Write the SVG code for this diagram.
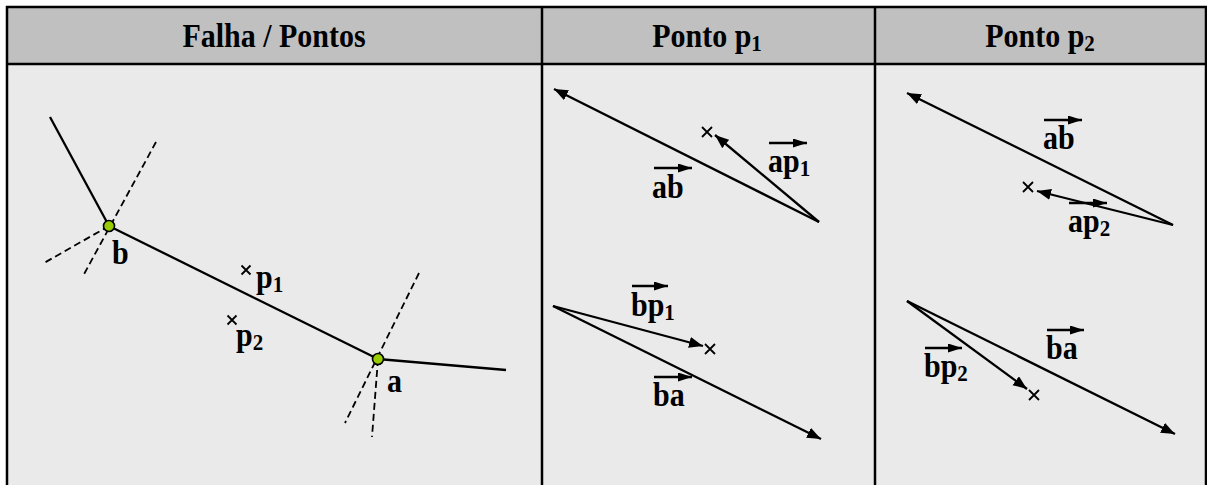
<svg xmlns="http://www.w3.org/2000/svg" width="1207" height="485" viewBox="0 0 1207 485">
<style>
.hdr{font-family:"Liberation Serif","Times New Roman",serif;font-weight:bold;font-size:30px;fill:#000;text-anchor:middle}
.lbl{font-family:"Liberation Serif","Times New Roman",serif;font-weight:bold;font-size:30px;fill:#000}
.sub{font-size:21px}
.hsub{font-size:21px}
.ln{stroke:#000;stroke-width:2.3;fill:none}
.dash{stroke:#000;stroke-width:1.8;fill:none;stroke-dasharray:7 4}
.vec{stroke:#000;stroke-width:2.3;fill:none;marker-end:url(#ah)}
.ov{stroke:#000;stroke-width:2.5;fill:none;marker-end:url(#oa)}
.cr{stroke:#000;stroke-width:1.8;fill:none}
.grid{stroke:#000;stroke-width:2.5;fill:none}
.pt{fill:#99cc00;stroke:#000;stroke-width:1.6}
</style>
<defs>
<marker id="ah" markerUnits="userSpaceOnUse" markerWidth="15" markerHeight="12" refX="14" refY="5.5" orient="auto"><path d="M0,0 L14,5.5 L0,11 z" fill="#000"/></marker>
<marker id="oa" markerUnits="userSpaceOnUse" markerWidth="15" markerHeight="10" refX="14" refY="4.5" orient="auto"><path d="M0,0 L14,4.5 L0,9 z" fill="#000"/></marker>
</defs>
<rect x="0" y="0" width="1207" height="485" fill="#fff"/>
<g id="table">
<rect x="7" y="7" width="1199" height="57" fill="#c0c0c0"/>
<rect x="7" y="64" width="1199" height="421" fill="#eaeaea"/>
<line class="grid" x1="6" y1="7" x2="1207" y2="7"/>
<line class="grid" x1="7" y1="6" x2="7" y2="485"/>
<line class="grid" x1="1206" y1="6" x2="1206" y2="485"/>
<line class="grid" x1="6" y1="64" x2="1207" y2="64"/>
<line class="grid" x1="542" y1="7" x2="542" y2="485"/>
<line class="grid" x1="875" y1="7" x2="875" y2="485"/>
</g>
<g id="headers">
<text class="hdr" transform="translate(274,47) scale(1,1.1)">Falha / Pontos</text>
<text class="hdr" transform="translate(707,47) scale(1,1.1)">Ponto p<tspan class="hsub" dy="4">1</tspan></text>
<text class="hdr" transform="translate(1040,47) scale(1,1.1)">Ponto p<tspan class="hsub" dy="4">2</tspan></text>
</g>
<g id="fault">
<line class="ln" x1="50" y1="117" x2="109" y2="226"/>
<line class="ln" x1="109" y1="226" x2="378" y2="359"/>
<line class="ln" x1="378" y1="359" x2="506" y2="370"/>
<line class="dash" x1="156" y1="142" x2="83" y2="276"/>
<line class="dash" x1="109" y1="226" x2="44" y2="263"/>
<line class="dash" x1="419" y1="273" x2="345" y2="423"/>
<line class="dash" x1="378" y1="359" x2="372" y2="437"/>
</g>
<g id="point-b"><circle class="pt" cx="109" cy="226" r="5.5"/><text class="lbl" transform="translate(112,264) scale(1,1.1)">b</text></g>
<g id="point-a"><circle class="pt" cx="378" cy="359" r="5.5"/><text class="lbl" transform="translate(387,392) scale(1,1.1)">a</text></g>
<g id="point-p1"><path class="cr" d="M241.5,265.5 L250.5,274.5 M250.5,265.5 L241.5,274.5"/><text class="lbl" transform="translate(256,288) scale(1,1.1)">p<tspan class="sub" dy="4">1</tspan></text></g>
<g id="point-p2"><path class="cr" d="M227.5,315.5 L236.5,324.5 M236.5,315.5 L227.5,324.5"/><text class="lbl" transform="translate(236,346) scale(1,1.1)">p<tspan class="sub" dy="4">2</tspan></text></g>
<g id="connectors">
<line class="vec" x1="819" y1="222" x2="554" y2="89"/>
<line class="vec" x1="819" y1="222" x2="715" y2="135"/>
<line class="vec" x1="553" y1="306" x2="703" y2="346"/>
<line class="vec" x1="553" y1="306" x2="821" y2="439"/>
<line class="vec" x1="1173" y1="225" x2="907" y2="93"/>
<line class="vec" x1="1173" y1="225" x2="1037" y2="191"/>
<line class="vec" x1="907" y1="301" x2="1027" y2="389"/>
<line class="vec" x1="907" y1="301" x2="1175" y2="434"/>
</g>
<g id="marks">
<path class="cr" d="M702,127 L712,137 M712,127 L702,137"/>
<path class="cr" d="M705,344 L715,354 M715,344 L705,354"/>
<path class="cr" d="M1023,182 L1033,192 M1033,182 L1023,192"/>
<path class="cr" d="M1029,390 L1039,400 M1039,390 L1029,400"/>
</g>
<g id="vec-ab-1"><line class="ov" x1="654" y1="168" x2="692" y2="168"/><text class="lbl" transform="translate(652,198) scale(1,1.1)">ab</text></g>
<g id="vec-ap1"><line class="ov" x1="769" y1="143" x2="807" y2="143"/><text class="lbl" transform="translate(768,172) scale(1,1.1)">ap<tspan class="sub" dy="4">1</tspan></text></g>
<g id="vec-bp1"><line class="ov" x1="632" y1="286" x2="668" y2="286"/><text class="lbl" transform="translate(631,316) scale(1,1.1)">bp<tspan class="sub" dy="4">1</tspan></text></g>
<g id="vec-ba-1"><line class="ov" x1="654" y1="377" x2="692" y2="377"/><text class="lbl" transform="translate(653,406) scale(1,1.1)">ba</text></g>
<g id="vec-ab-2"><line class="ov" x1="1044" y1="120" x2="1082" y2="120"/><text class="lbl" transform="translate(1043,149) scale(1,1.1)">ab</text></g>
<g id="vec-ap2"><line class="ov" x1="1069" y1="203" x2="1107" y2="203"/><text class="lbl" transform="translate(1068,232) scale(1,1.1)">ap<tspan class="sub" dy="4">2</tspan></text></g>
<g id="vec-bp2"><line class="ov" x1="925" y1="348" x2="962" y2="348"/><text class="lbl" transform="translate(924,377) scale(1,1.1)">bp<tspan class="sub" dy="4">2</tspan></text></g>
<g id="vec-ba-2"><line class="ov" x1="1047" y1="330" x2="1084" y2="330"/><text class="lbl" transform="translate(1046,359) scale(1,1.1)">ba</text></g>
</svg>
